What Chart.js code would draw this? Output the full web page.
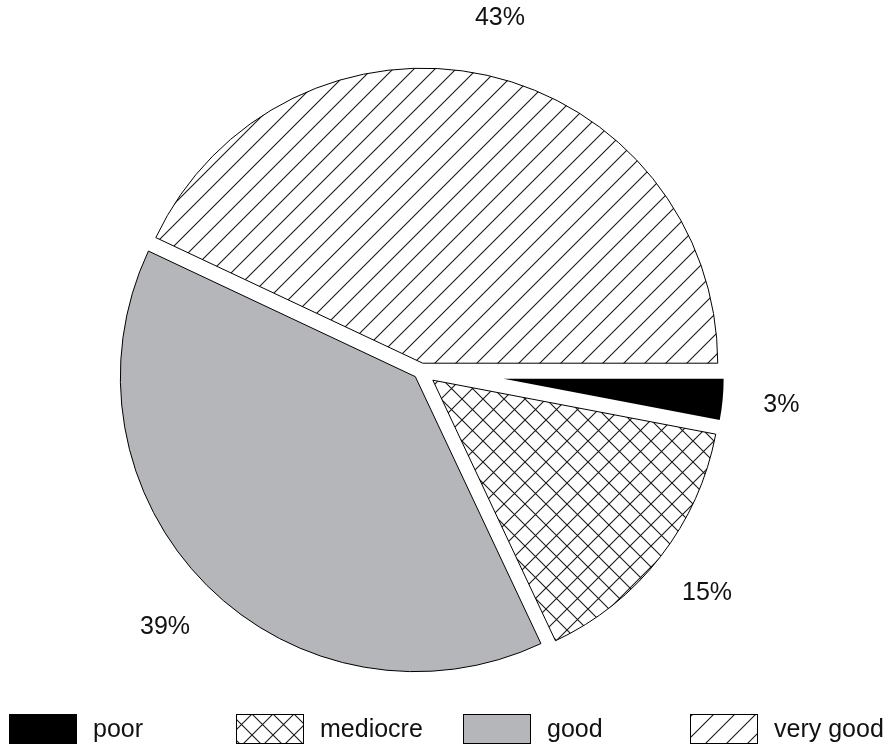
<!DOCTYPE html>
<html>
<head>
<meta charset="utf-8">
<script src="https://cdn.jsdelivr.net/npm/chart.js@4.4.1/dist/chart.umd.min.js"></script>
<style>
  html, body { margin: 0; padding: 0; background: #fff; }
</style>
</head>
<body>
<canvas id="pie" width="893" height="749"></canvas>
<script>
// ---- data ----
const categories = ['poor', 'mediocre', 'good', 'very good'];
const shares = [3, 15, 39, 43];

// ---- look ----
const explode = [83, 15, 8, 8];          // px each slice is pulled out
const sliceRadius = [220, 288, 295, 295];
const labelDist = 362;
const FONT = '"Liberation Sans", Arial, Helvetica, sans-serif';

// diagonal hatch tiles ("/" only, or crossed)
function hatch(cross) {
    const s = 21;
    const c = document.createElement('canvas');
    c.width = s; c.height = s;
    const g = c.getContext('2d');
    g.fillStyle = '#fff';
    g.fillRect(0, 0, s, s);
    g.strokeStyle = '#1a1a1a';
    g.lineWidth = 1.1;
    g.beginPath();
    g.moveTo(-2, s + 2); g.lineTo(s + 2, -2);
    g.moveTo(-2, 2); g.lineTo(2, -2);
    g.moveTo(s - 2, s + 2); g.lineTo(s + 2, s - 2);
    if (cross) {
        g.moveTo(-2, -2); g.lineTo(s + 2, s + 2);
        g.moveTo(s - 2, -2); g.lineTo(s + 2, 2);
        g.moveTo(-2, s - 2); g.lineTo(2, s + 2);
    }
    g.stroke();
    return g.createPattern(c, 'repeat');
}

const ctx = document.getElementById('pie').getContext('2d');
const fills = ['#000000', hatch(true), '#b5b6ba', hatch(false)];

// pull slices out along their bisector and set each slice's radius
const explodePlugin = {
    id: 'explode',
    afterDatasetUpdate(chart, args) {
        args.meta.data.forEach((arc, i) => {
            const mid = (arc.startAngle + arc.endAngle) / 2;
            arc.x += Math.cos(mid) * explode[i];
            arc.y += Math.sin(mid) * explode[i];
            arc.outerRadius = sliceRadius[i];
        });
    }
};

// percentage labels outside the pie
const labelPlugin = {
    id: 'pctLabels',
    afterDatasetsDraw(chart) {
        const a = chart.chartArea;
        const cx = (a.left + a.right) / 2, cy = (a.top + a.bottom) / 2;
        const c = chart.ctx;
        const total = shares.reduce((s, v) => s + v, 0);
        c.save();
        c.font = '25px ' + FONT;
        c.fillStyle = '#111';
        c.textAlign = 'center';
        c.textBaseline = 'middle';
        chart.getDatasetMeta(0).data.forEach((arc, i) => {
            const mid = (arc.startAngle + arc.endAngle) / 2;
            const pct = Math.round(shares[i] / total * 100) + '%';
            c.fillText(pct, cx + Math.cos(mid) * labelDist, cy + Math.sin(mid) * labelDist);
        });
        c.restore();
    }
};

// legend row on a fixed grid
const legendPlugin = {
    id: 'gridLegend',
    afterDraw(chart) {
        const c = chart.ctx;
        c.save();
        c.font = '25px ' + FONT;
        c.textBaseline = 'middle';
        c.textAlign = 'left';
        chart.data.labels.forEach((lab, i) => {
            const x = 9 + i * 227, y = 714;
            c.fillStyle = fills[i];
            c.fillRect(x, y, 68, 30);
            c.strokeStyle = '#000';
            c.lineWidth = 1;
            c.strokeRect(x + 0.5, y + 0.5, 67, 29);
            c.fillStyle = '#111';
            c.fillText(lab, x + 84, y + 16);
        });
        c.restore();
    }
};

new Chart(ctx, {
    type: 'pie',
    data: {
        labels: categories,
        datasets: [{
            data: shares,
            backgroundColor: fills,
            borderColor: '#000',
            borderWidth: [0, 1, 1, 1],
            borderJoinStyle: 'miter',
            radius: 295
        }]
    },
    options: {
        responsive: false,
        animation: false,
        events: [],
        rotation: 90,
        layout: { padding: { left: 100, right: 151, top: 60, bottom: 67 } },
        plugins: {
            legend: { display: false },
            tooltip: { enabled: false }
        }
    },
    plugins: [explodePlugin, labelPlugin, legendPlugin]
});
</script>
</body>
</html>
